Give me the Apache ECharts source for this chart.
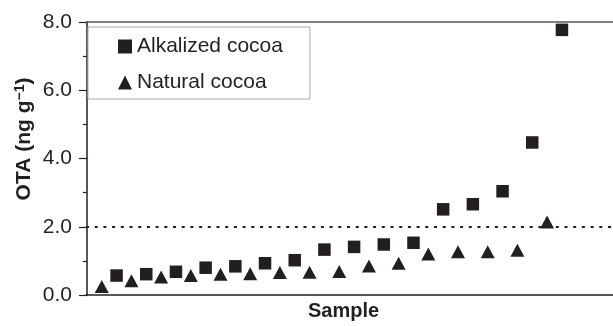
<!DOCTYPE html>
<html>
<head>
<meta charset="utf-8">
<script src="https://cdn.jsdelivr.net/npm/echarts@6/dist/echarts.min.js"></script>
<style>
html,body{margin:0;padding:0;background:#fff;}
#chart{width:613px;height:326px;}
</style>
</head>
<body>
<div id="chart"></div>
<script>
// Sample ranks (x positions are sample order numbers)
var naturalSamples = [1,3,5,7,9,11,13,15,17,19,21,23,25,27,29,31];
var alkalizedSamples = [2,4,6,8,10,12,14,16,18,20,22,24,26,28,30,32];
// OTA values (ng/g)
var naturalValues = [0.25,0.42,0.53,0.57,0.61,0.62,0.66,0.67,0.69,0.85,0.93,1.20,1.27,1.27,1.31,2.14];
var alkalizedValues = [0.57,0.61,0.68,0.80,0.84,0.93,1.02,1.33,1.41,1.48,1.53,2.51,2.66,3.04,4.47,7.77];
var seriesNames = ['Alkalized cocoa','Natural cocoa'];
var yTicks = [0,2,4,6,8];
var limitValue = 2.0;

function pairs(xs, ys){ return xs.map(function(x,i){ return [x, ys[i]]; }); }

var ink = '#231f20';
var font = '"Liberation Sans", Arial, Helvetica, sans-serif';

var chart = echarts.init(document.getElementById('chart'), null, {renderer:'canvas'});
chart.setOption({
  animation:false,
  backgroundColor:'#fff',
  grid:{left:86, top:22, right:0, bottom:30, containLabel:false,
        show:true, borderWidth:0},
  legend:{
    orient:'vertical', left:88, top:27,
    padding:[9,27,6,30],
    itemWidth:14, itemHeight:14, itemGap:15,
    borderColor:'#a8a8a8', borderWidth:1, backgroundColor:'#fff',
    textStyle:{fontFamily:font, fontSize:21, color:ink},
    itemStyle:{opacity:1},
    data:[{name:seriesNames[0], icon:'rect'},{name:seriesNames[1], icon:'triangle'}],
    selectedMode:false
  },
  xAxis:{
    type:'value', min:-0.06, max:35.44,
    axisLine:{show:true, onZero:false, lineStyle:{color:ink, width:1.5}},
    axisTick:{show:false}, axisLabel:{show:false}, splitLine:{show:false},
    name:'Sample', nameLocation:'middle', nameGap:6,
    nameTextStyle:{fontFamily:font, fontSize:20, fontWeight:'bold', color:ink,
                   verticalAlign:'top', padding:[0,12,0,0]}
  },
  yAxis:{
    type:'value', min:yTicks[0], max:yTicks[yTicks.length-1], interval:2,
    axisLine:{show:true, lineStyle:{color:ink, width:1.5}},
    axisTick:{show:true, length:8, lineStyle:{color:ink, width:1.2}},
    minorTick:{show:true, splitNumber:2, length:4, lineStyle:{color:ink, width:1.2}},
    axisLabel:{margin:14, fontFamily:font, fontSize:21, color:ink,
               formatter:function(v){ return v.toFixed(1); }},
    splitLine:{show:false}
  },
  graphic:[
    {type:'line', shape:{x1:86, y1:22, x2:613, y2:22},
     style:{stroke:'#555', lineWidth:1.5}, z:10},
    {type:'text', x:24, y:139, rotation:Math.PI/2,
     style:{text:'{b|OTA (ng g}{s|−1}{b|)}', align:'center', verticalAlign:'middle',
       fill:ink,
       rich:{b:{fontFamily:font, fontSize:21, fontWeight:'bold', fill:ink, color:ink},
             s:{fontFamily:font, fontSize:14, fontWeight:'bold', fill:ink, color:ink, verticalAlign:'top'}}}}
  ],
  series:[
    {name:seriesNames[0], type:'scatter', symbol:'rect', symbolSize:12.5,
     itemStyle:{color:ink, opacity:1}, data:pairs(alkalizedSamples, alkalizedValues), z:3,
     markLine:{silent:true, symbol:'none', label:{show:false},
       lineStyle:{color:ink, type:[3,5.7], width:2},
       data:[{yAxis:limitValue}]}},
    {name:seriesNames[1], type:'scatter', symbol:'triangle', symbolSize:[14,13],
     itemStyle:{color:ink, opacity:1}, data:pairs(naturalSamples, naturalValues), z:4}
  ]
});
</script>
</body>
</html>
